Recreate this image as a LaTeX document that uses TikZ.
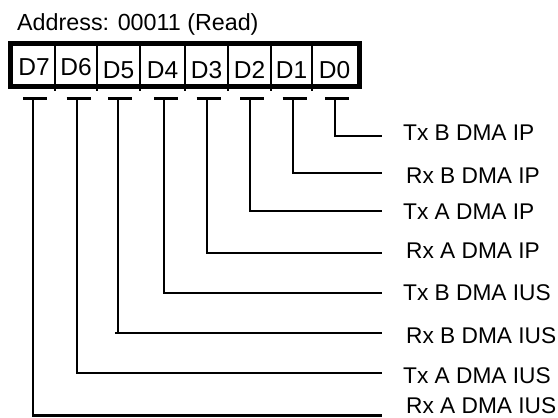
\documentclass[tikz,border=0pt]{standalone}
\usepackage{fontspec}
\setmainfont{Liberation Sans}
\begin{document}
\begin{tikzpicture}[x=1pt,y=-1pt,
  wire/.style={line width=2.2pt},
  tbar/.style={line width=2.2pt},
  regbox/.style={line width=5pt},
  divider/.style={line width=2pt},
  bitlbl/.style={inner sep=0pt,anchor=base,font=\fontsize{24.5}{28}\selectfont},
  siglbl/.style={inner sep=0pt,anchor=base west,font=\fontsize{22.7}{26}\selectfont},
  addrlbl/.style={inner sep=0pt,anchor=base west,font=\fontsize{23.3}{27}\selectfont}]
\useasboundingbox (0,0) rectangle (558,418);

% title
\node[addrlbl] (addr) at (17,30.7) {Address: 00011 (Read)};

% register box
\draw[regbox] (10.8,43.8) coordinate (boxnw) rectangle (359,86.5) coordinate (boxse);
\foreach \x [count=\i] in {55,97.3,140,185,228,271,312}
  \draw[divider] (\x,44) -- (\x,91);

% bit labels
\node[bitlbl] (d7) at (34,75) {D7};
\node[bitlbl] (d6) at (76,75) {D6};
\node[bitlbl] (d5) at (118.5,78) {D5};
\node[bitlbl] (d4) at (162.5,78) {D4};
\node[bitlbl] (d3) at (206.5,78) {D3};
\node[bitlbl] (d2) at (249.5,78) {D2};
\node[bitlbl] (d1) at (291.5,78) {D1};
\node[bitlbl] (d0) at (334.5,78) {D0};

% T tops
\coordinate (t7) at (33.3,98.5);
\coordinate (t6) at (76.7,98.5);
\coordinate (t5) at (118.3,98.5);
\coordinate (t4) at (164,98.5);
\coordinate (t3) at (206.7,98.5);
\coordinate (t2) at (250,98.5);
\coordinate (t1) at (292.7,98.5);
\coordinate (t0) at (335,98.5);

% line ends
\coordinate (e0) at (382,136);
\coordinate (e1) at (382,173.3);
\coordinate (e2) at (382,211);
\coordinate (e3) at (382,252.7);
\coordinate (e4) at (382,293.3);
\coordinate (e5) at (382,332.7);
\coordinate (e6) at (382,373.3);
\coordinate (e7) at (382,415.5);
\coordinate (k5) at (115,332.7);

% signal labels
\node[siglbl] (s0) at (403,140) {Tx B DMA IP};
\node[siglbl] (s1) at (406,183) {Rx B DMA IP};
\node[siglbl] (s2) at (403,219) {Tx A DMA IP};
\node[siglbl] (s3) at (406,258) {Rx A DMA IP};
\node[siglbl] (s4) at (403,300) {Tx B DMA IUS};
\node[siglbl] (s5) at (406,343) {Rx B DMA IUS};
\node[siglbl] (s6) at (403,383.3) {Tx A DMA IUS};
\node[siglbl] (s7) at (406,413) {Rx A DMA IUS};

% T bars and wires
\foreach \i in {0,...,7}{
  \draw[tbar] ([xshift=-10pt]t\i) -- ([xshift=14pt]t\i);
  \draw[wire] (t\i) |- (e\i);
}
\draw[wire] (k5) -- (e5);
\end{tikzpicture}
\end{document}
